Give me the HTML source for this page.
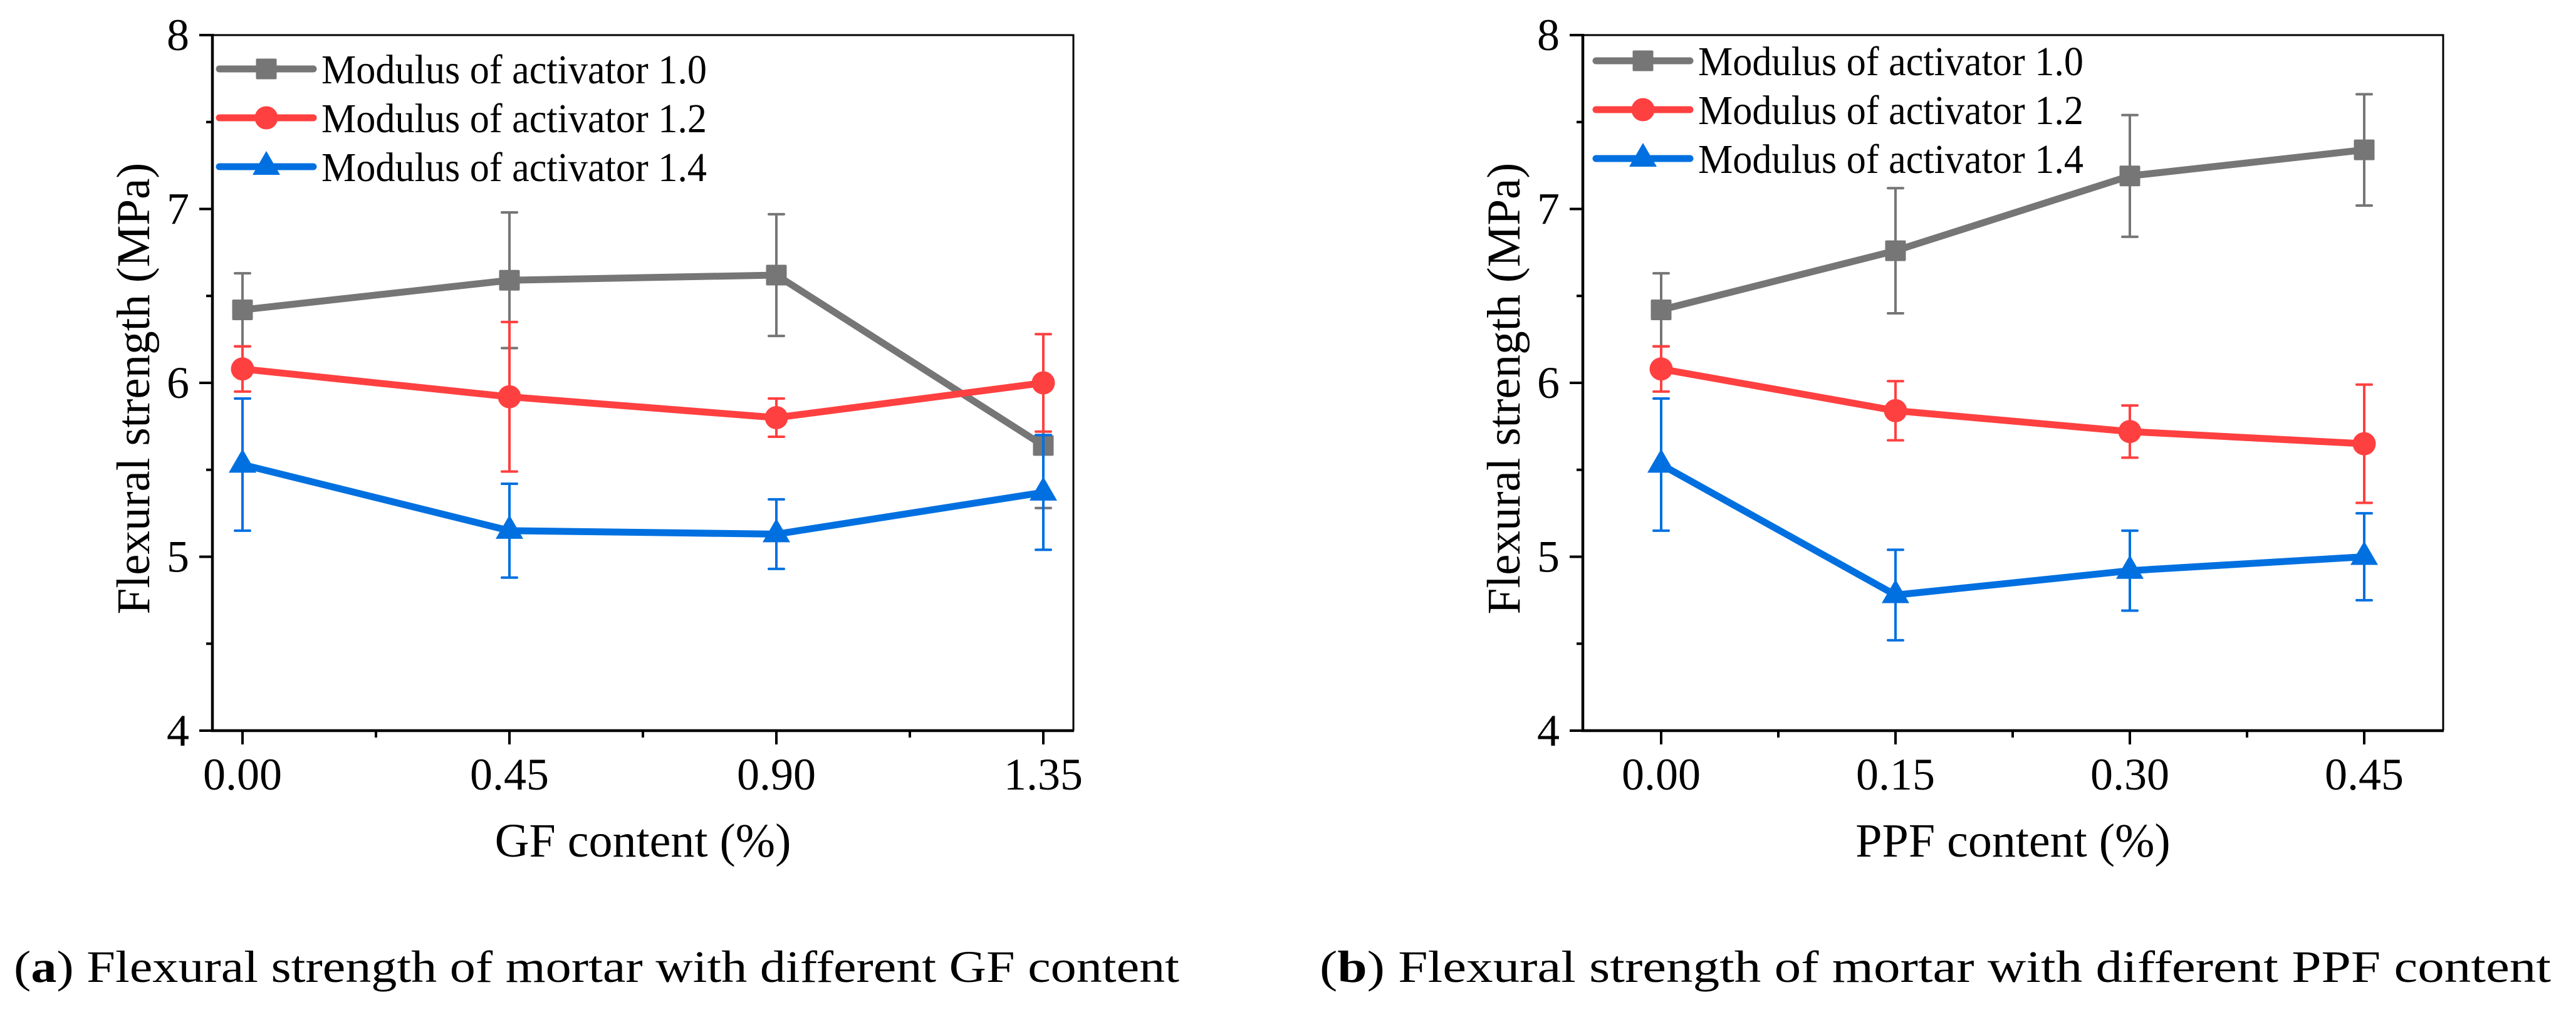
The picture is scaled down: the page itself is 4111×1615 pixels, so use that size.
<!DOCTYPE html>
<html><head><meta charset="utf-8"><style>
html,body{margin:0;padding:0;background:#fff;}
svg{display:block;font-family:"Liberation Serif","Times New Roman",serif;}
</style></head><body>
<svg id="fig" width="4111" height="1615" viewBox="0 0 4111 1615" xmlns="http://www.w3.org/2000/svg" font-family="Liberation Serif, serif">
<rect width="4111" height="1615" fill="#fff"/>
<text x="22" y="1567" font-size="72" textLength="1860" lengthAdjust="spacingAndGlyphs">(<tspan font-weight="bold">a</tspan>) Flexural strength of mortar with different GF content</text>
<text x="2106" y="1567" font-size="72" textLength="1965" lengthAdjust="spacingAndGlyphs">(<tspan font-weight="bold">b</tspan>) Flexural strength of mortar with different PPF content</text>
</svg>
<script>
const seriesNames = ["Modulus of activator 1.0","Modulus of activator 1.2","Modulus of activator 1.4"];
const seriesColors = ["#767676","#ff4040","#0070e0"];
const yTicks = [4,5,6,7,8];
const aCategories = ["0.00","0.45","0.90","1.35"];
const aGray = [6.42,6.59,6.62,5.64];
const aGrayErr = [0.21,0.39,0.35,0.36];
const aRed = [6.08,5.92,5.80,6.00];
const aRedErr = [0.13,0.43,0.11,0.28];
const aBlue = [5.53,5.15,5.13,5.37];
const aBlueErr = [0.38,0.27,0.20,0.33];
const bCategories = ["0.00","0.15","0.30","0.45"];
const bGray = [6.42,6.76,7.19,7.34];
const bGrayErr = [0.21,0.36,0.35,0.32];
const bRed = [6.08,5.84,5.72,5.65];
const bRedErr = [0.13,0.17,0.15,0.34];
const bBlue = [5.53,4.78,4.92,5.00];
const bBlueErr = [0.38,0.26,0.23,0.25];

const NS="http://www.w3.org/2000/svg";
const svg=document.getElementById('fig');
function mk(tag,attrs,parent){const e=document.createElementNS(NS,tag);for(const k in attrs)e.setAttribute(k,attrs[k]);(parent||svg).appendChild(e);return e;}

function panel(cfg){
  const g=mk('g',{});
  
  
  const top=56,bot=1166,L=cfg.left,R=cfg.right;
  const y=v=>bot-(v-4)*(bot-top)/4;
  const x=i=>cfg.x0+i*cfg.dx;
  const fr=mk('path',{d:`M${L} ${top}H${R}V${bot}`,fill:'none',stroke:'#000','stroke-width':3},g);
  
  
  const ax=mk('path',{d:`M${L} ${top-2}V${bot}H${R+1}`,fill:'none',stroke:'#000','stroke-width':4.5},g);
  
  
  for(let v=4;v<=8;v+=0.5){
    const major=Number.isInteger(v);
    const t=mk('line',{x1:L-(major?21:10),x2:L,y1:y(v),y2:y(v),stroke:'#000','stroke-width':4},g);
    
    
  }
  yTicks.forEach(v=>{
    const t=mk('text',{x:L-37,y:y(v)+24,'font-size':72,'text-anchor':'end'},g);
    t.textContent=v;
    
    
  });
  cfg.cats.forEach((c,i)=>{
    const t=mk('line',{x1:x(i),x2:x(i),y1:bot,y2:bot+22,stroke:'#000','stroke-width':4},g);
    
    
    if(i<cfg.cats.length-1){
      const m=mk('line',{x1:x(i+0.5),x2:x(i+0.5),y1:bot,y2:bot+11,stroke:'#000','stroke-width':4},g);
      
      
    }
    const l=mk('text',{x:x(i),y:1260,'font-size':72,'text-anchor':'middle'},g);
    l.textContent=c;
    
    
  });
  const xt=mk('text',{x:(L+R)/2,y:1367,'font-size':76,'text-anchor':'middle'},g);
  xt.textContent=cfg.xTitle;
  
  
  const yt=mk('text',{x:0,y:0,'font-size':75,'text-anchor':'middle',transform:`translate(${L-101},620) rotate(-90)`},g);
  yt.textContent='Flexural strength (MPa)';
  
  
  cfg.series.forEach((s,si)=>{
    const col=seriesColors[si];
    const sg=mk('g',{},g);
    
    
    s.vals.forEach((v,i)=>{
      const e=s.err[i];
      const eb=mk('path',{d:`M${x(i)} ${y(v+e)}V${y(v-e)}M${x(i)-12} ${y(v+e)}H${x(i)+12}M${x(i)-12} ${y(v-e)}H${x(i)+12}`,stroke:col,'stroke-width':4,'stroke-linecap':'round',fill:'none'},sg);
      
      
    });
    const ln=mk('polyline',{points:s.vals.map((v,i)=>x(i)+','+y(v)).join(' '),fill:'none',stroke:col,'stroke-width':11,'stroke-linecap':'round','stroke-linejoin':'round'},sg);
    
    
    s.vals.forEach((v,i)=>{
      const mkEl=marker(si,x(i),y(v),sg);
      
      
    });
  });
  const lg=mk('g',{},g);
  
  
  seriesNames.forEach((n,si)=>{
    const ry=cfg.legY+si*78, col=seriesColors[si];
    const le=mk('g',{},lg);
    
    
    mk('line',{x1:cfg.legX,x2:cfg.legX+150,y1:ry,y2:ry,stroke:col,'stroke-width':11,'stroke-linecap':'round'},le);
    marker(si,cfg.legX+75,ry,le);
    const t=mk('text',{x:cfg.legX+163,y:ry+23,'font-size':66,textLength:615,lengthAdjust:'spacingAndGlyphs'},le);
    t.textContent=n;
  });
}
function marker(si,cx,cy,parent){
  const col=seriesColors[si];
  if(si===0) return mk('rect',{x:cx-16.5,y:cy-16.5,width:33,height:33,fill:col,rx:2},parent);
  if(si===1) return mk('circle',{cx:cx,cy:cy,r:18.5,fill:col},parent);
  return mk('polygon',{points:`${cx},${cy-25} ${cx-22},${cy+13} ${cx+22},${cy+13}`,fill:col},parent);
}
panel({id:'chart-a',left:339,right:1713,x0:387,dx:426,cats:aCategories,xTitle:'GF content (%)',legX:350,legY:110,
  series:[{vals:aGray,err:aGrayErr},{vals:aRed,err:aRedErr},{vals:aBlue,err:aBlueErr}]});
panel({id:'chart-b',left:2526,right:3899,x0:2651,dx:374,cats:bCategories,xTitle:'PPF content (%)',legX:2547,legY:97,
  series:[{vals:bGray,err:bGrayErr},{vals:bRed,err:bRedErr},{vals:bBlue,err:bBlueErr}]});
</script>
</body></html>
